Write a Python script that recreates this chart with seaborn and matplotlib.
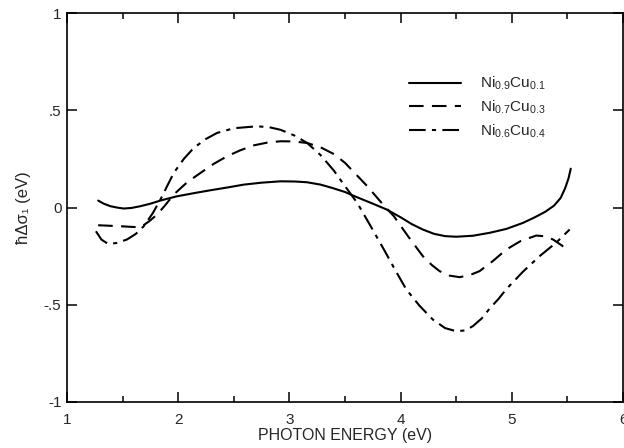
import numpy as np
import pandas as pd
import seaborn as sns
import matplotlib.pyplot as plt

## values
x_09 = [1.28, 1.33, 1.39, 1.45, 1.51, 1.58, 1.66, 1.75, 1.84, 1.92, 1.99, 2.15, 2.29, 2.45,
        2.59, 2.75, 2.92, 3.05, 3.16, 3.28, 3.39, 3.5, 3.6, 3.75, 3.875, 4.0, 4.1, 4.2,
        4.3, 4.4, 4.5, 4.65, 4.8, 4.95, 5.1, 5.2, 5.3, 5.38, 5.44, 5.48, 5.51, 5.53]
y_09 = [0.036, 0.02, 0.007, 0.0, -0.005, -0.002, 0.007, 0.02, 0.036, 0.048, 0.058, 0.075,
        0.089, 0.104, 0.118, 0.128, 0.135, 0.134, 0.13, 0.118, 0.10, 0.08, 0.055, 0.02,
        -0.01, -0.05, -0.085, -0.113, -0.135, -0.147, -0.15, -0.145, -0.13, -0.11, -0.079,
        -0.052, -0.022, 0.01, 0.05, 0.1, 0.15, 0.2]

x_07 = [1.28, 1.48, 1.6, 1.67, 1.74, 1.81, 1.88, 1.96, 2.08, 2.2, 2.32, 2.44, 2.56, 2.68,
        2.8, 2.92, 3.04, 3.16, 3.28, 3.4, 3.5, 3.6, 3.7, 3.82, 3.94, 4.07, 4.2, 4.28, 4.35,
        4.44, 4.53, 4.62, 4.71, 4.83, 4.95, 5.08, 5.22, 5.3, 5.37, 5.45, 5.51]
y_07 = [-0.091, -0.096, -0.1, -0.098, -0.07, -0.036, 0.01, 0.067, 0.13, 0.178, 0.225, 0.264,
        0.295, 0.32, 0.334, 0.341, 0.34, 0.332, 0.31, 0.275, 0.23, 0.17, 0.11, 0.03, -0.045,
        -0.15, -0.25, -0.295, -0.327, -0.35, -0.358, -0.348, -0.327, -0.275, -0.216, -0.172,
        -0.144, -0.148, -0.164, -0.195, -0.224]

x_06 = [1.26, 1.31, 1.37, 1.45, 1.54, 1.62, 1.69, 1.77, 1.84, 1.9, 1.96, 2.05, 2.14, 2.25,
        2.35, 2.5, 2.71, 2.82, 2.92, 3.04, 3.16, 3.28, 3.4, 3.5, 3.61, 3.73, 3.85, 3.95,
        4.05, 4.17, 4.29, 4.4, 4.5, 4.58, 4.65, 4.73, 4.8, 4.88, 4.95, 5.1, 5.25, 5.4, 5.52]
y_06 = [-0.122, -0.165, -0.187, -0.182, -0.164, -0.135, -0.096, -0.03, 0.041, 0.11, 0.178,
        0.25, 0.307, 0.353, 0.384, 0.408, 0.418, 0.413, 0.40, 0.372, 0.332, 0.27, 0.19, 0.11,
        0.024, -0.095, -0.216, -0.32, -0.42, -0.505, -0.576, -0.62, -0.636, -0.632, -0.61,
        -0.57, -0.52, -0.47, -0.42, -0.33, -0.25, -0.18, -0.113]

labels = [r'Ni$_{0.9}$Cu$_{0.1}$', r'Ni$_{0.7}$Cu$_{0.3}$', r'Ni$_{0.6}$Cu$_{0.4}$']
x_ticks = [1, 2, 3, 4, 5, 6]
y_ticks = [1, 0.5, 0, -0.5, -1]
y_ticklabels = ['1', '.5', '0', '-.5', '-1']

sns.set_style('ticks')
plt.rcParams['font.family'] = ['Liberation Sans', 'DejaVu Sans']
plt.rcParams['mathtext.default'] = 'regular'

fig = plt.figure(figsize=(6.24, 4.48), dpi=100)
ax = fig.add_axes([0.1074, 0.1027, 0.891, 0.868])

series = [(x_09, y_09, '-'), (x_07, y_07, (0, (7, 4))), (x_06, y_06, (0, (8, 3, 2, 3)))]
for (xs, ys, ls), lab in zip(series, labels):
    df = pd.DataFrame({'energy': xs, 'sigma': ys})
    sns.lineplot(data=df, x='energy', y='sigma', sort=False, color='black',
                 linewidth=1.5, linestyle=ls, label=lab, ax=ax)

ax.set_xlim(1, 6)
ax.set_ylim(-1, 1)
ax.set_xticks(x_ticks)
ax.set_xticks(np.arange(1.5, 6, 1), minor=True)
ax.set_yticks(y_ticks, labels=y_ticklabels)
ax.tick_params(which='both', direction='in', top=True, right=True, width=1.1, color='black')
ax.tick_params(which='major', length=7, labelsize=11)
ax.tick_params(which='minor', length=4)
ax.tick_params(axis='x', pad=8)
ax.tick_params(axis='y', pad=4)
for s in ax.spines.values():
    s.set_linewidth(1.2)
    s.set_color('black')

ax.set_xlabel('PHOTON ENERGY (eV)', fontsize=11.5, labelpad=1)
ax.set_ylabel('ħΔσ₁ (eV)', fontsize=12, labelpad=9)

leg = ax.legend(loc='upper left', bbox_to_anchor=(0.591, 0.876), frameon=False,
                handlelength=3.4, handletextpad=1.2, labelspacing=0.4, fontsize=11)

fig.savefig('out.png', dpi=100)
